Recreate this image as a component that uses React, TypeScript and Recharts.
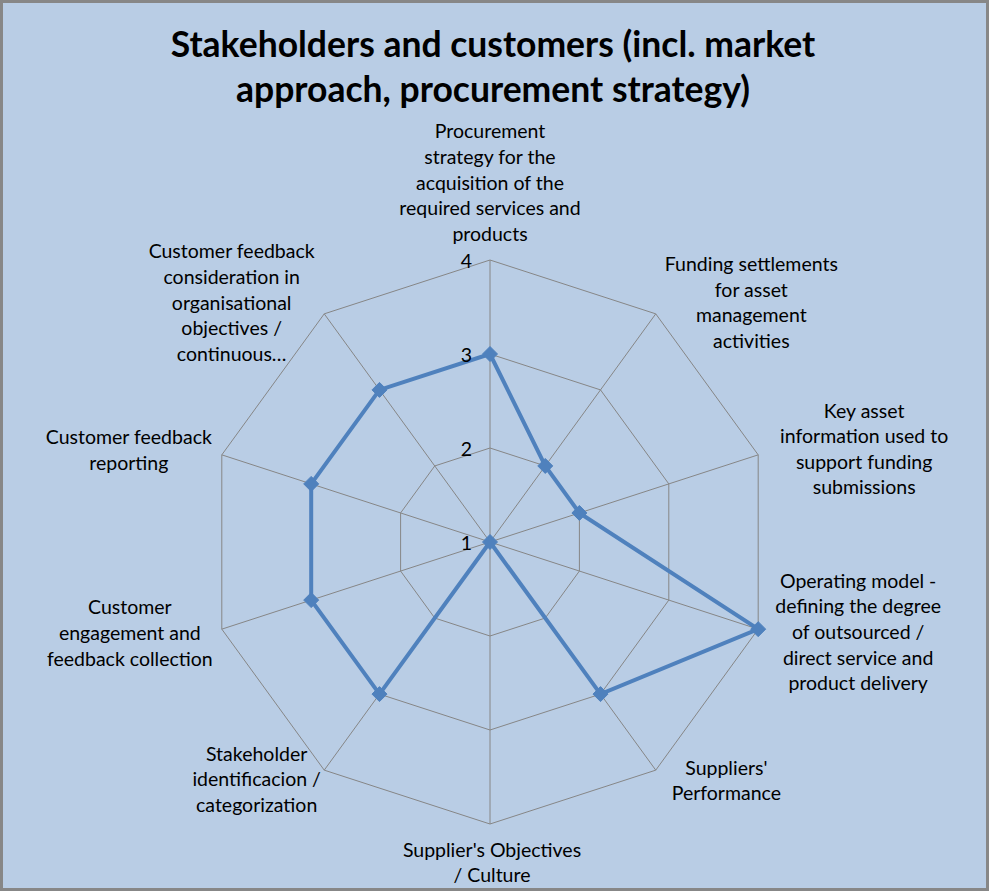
import React from "react";
import { RadarChart, Radar, PolarGrid, PolarAngleAxis, PolarRadiusAxis } from "recharts";

const categories = [
  "Procurement strategy for the acquisition of the required services and products",
  "Funding settlements for asset management activities",
  "Key asset information used to support funding submissions",
  "Operating model - defining the degree of outsourced / direct service and product delivery",
  "Suppliers' Performance",
  "Supplier's Objectives / Culture",
  "Stakeholder identificacion / categorization",
  "Customer engagement and feedback collection",
  "Customer feedback reporting",
  "Customer feedback consideration in organisational objectives / continuous…",
];

const categoryLabelLines = [
  ["Procurement", "strategy for the", "acquisition of the", "required services and", "products"],
  ["Funding settlements", "for asset", "management", "activities"],
  ["Key asset", "information used to", "support funding", "submissions"],
  ["Operating model -", "defining the degree", "of outsourced /", "direct service and", "product delivery"],
  ["Suppliers'", "Performance"],
  ["Supplier's Objectives", "/ Culture"],
  ["Stakeholder", "identificacion /", "categorization"],
  ["Customer", "engagement and", "feedback collection"],
  ["Customer feedback", "reporting"],
  ["Customer feedback", "consideration in", "organisational", "objectives /", "continuous…"],
];

const scores = [3, 2, 2, 4, 3, 1, 3, 3, 3, 3];
const radiusTicks = [1, 2, 3, 4];
const titleLines = ["Stakeholders and customers (incl. market", "approach, procurement strategy)"];

const data = categories.map((c, i) => ({ category: c, score: scores[i] }));

// label block centre offsets relative to the axis end (styling)
const labelOffsets: [number, number][] = [
  [0, -77],
  [95, -11],
  [105, -6],
  [99, 2],
  [70, 9],
  [2, 37],
  [-67, 8],
  [-91, 3],
  [-92, -5],
  [-92, -11],
];

const FONT = "Lato, 'Open Sans', sans-serif";
const LINE_H = 25.6;

const AngleTick = (props: any) => {
  const { x, y, payload } = props;
  const idx = payload.index ?? categories.indexOf(payload.value);
  const lines = categoryLabelLines[idx] || [String(payload.value)];
  const [ox, oy] = labelOffsets[idx] || [0, 0];
  const cxp = x + ox;
  const cyp = y + oy;
  const n = lines.length;
  return (
    <text textAnchor="middle" fontFamily={FONT} fontSize={19.5} fill="#000">
      {lines.map((l, i) => (
        <tspan key={i} x={cxp} y={cyp + (i - (n - 1) / 2) * LINE_H} dominantBaseline="central">
          {l}
        </tspan>
      ))}
    </text>
  );
};

const RadiusTick = (props: any) => {
  const { x, y, payload } = props;
  return (
    <text x={x - 18} y={y} textAnchor="end" dominantBaseline="central" fontFamily={FONT} fontSize={19.5} fill="#000">
      {payload.value}
    </text>
  );
};

const Diamond = (props: any) => {
  const { cx, cy } = props;
  if (cx == null || cy == null) return null;
  const r = 7.5;
  return (
    <polygon
      points={`${cx},${cy - r} ${cx + r},${cy} ${cx},${cy + r} ${cx - r},${cy}`}
      fill="#4F81BD"
      stroke="#4F81BD"
      strokeWidth={1}
    />
  );
};

export default function App() {
  return (
    <div
      style={{
        position: "absolute",
        left: 0,
        top: 0,
        width: 989,
        height: 891,
        boxSizing: "border-box",
        border: "3px solid #878787",
        background: "#B9CDE5",
        overflow: "hidden",
      }}
    >
      <svg width={983} height={120} style={{ position: "absolute", left: 0, top: 0 }}>
        {titleLines.map((t, i) => (
          <text
            key={i}
            x={490}
            y={54 + i * 45}
            textAnchor="middle"
            fontFamily={FONT}
            fontWeight="bold"
            fontSize={35.5}
            fill="#000"
          >
            {t}
          </text>
        ))}
      </svg>
      <div style={{ position: "absolute", left: 0, top: 0 }}>
        <RadarChart width={983} height={885} data={data} cx={487} cy={539} outerRadius={282} startAngle={90} endAngle={-270}>
          <PolarGrid gridType="polygon" stroke="#868686" strokeWidth={1} />
          <PolarAngleAxis dataKey="category" tick={<AngleTick />} tickLine={false} axisLine={false} tickSize={1} />
          <PolarRadiusAxis
            angle={90}
            domain={[1, 4]}
            ticks={radiusTicks as any}
            tickCount={4}
            axisLine={false}
            tickLine={false}
            tick={<RadiusTick />}
          />
          <Radar
            dataKey="score"
            stroke="#4F81BD"
            strokeWidth={4}
            fill="none"
            fillOpacity={0}
            dot={<Diamond />}
            isAnimationActive={false}
          />
        </RadarChart>
      </div>
    </div>
  );
}
